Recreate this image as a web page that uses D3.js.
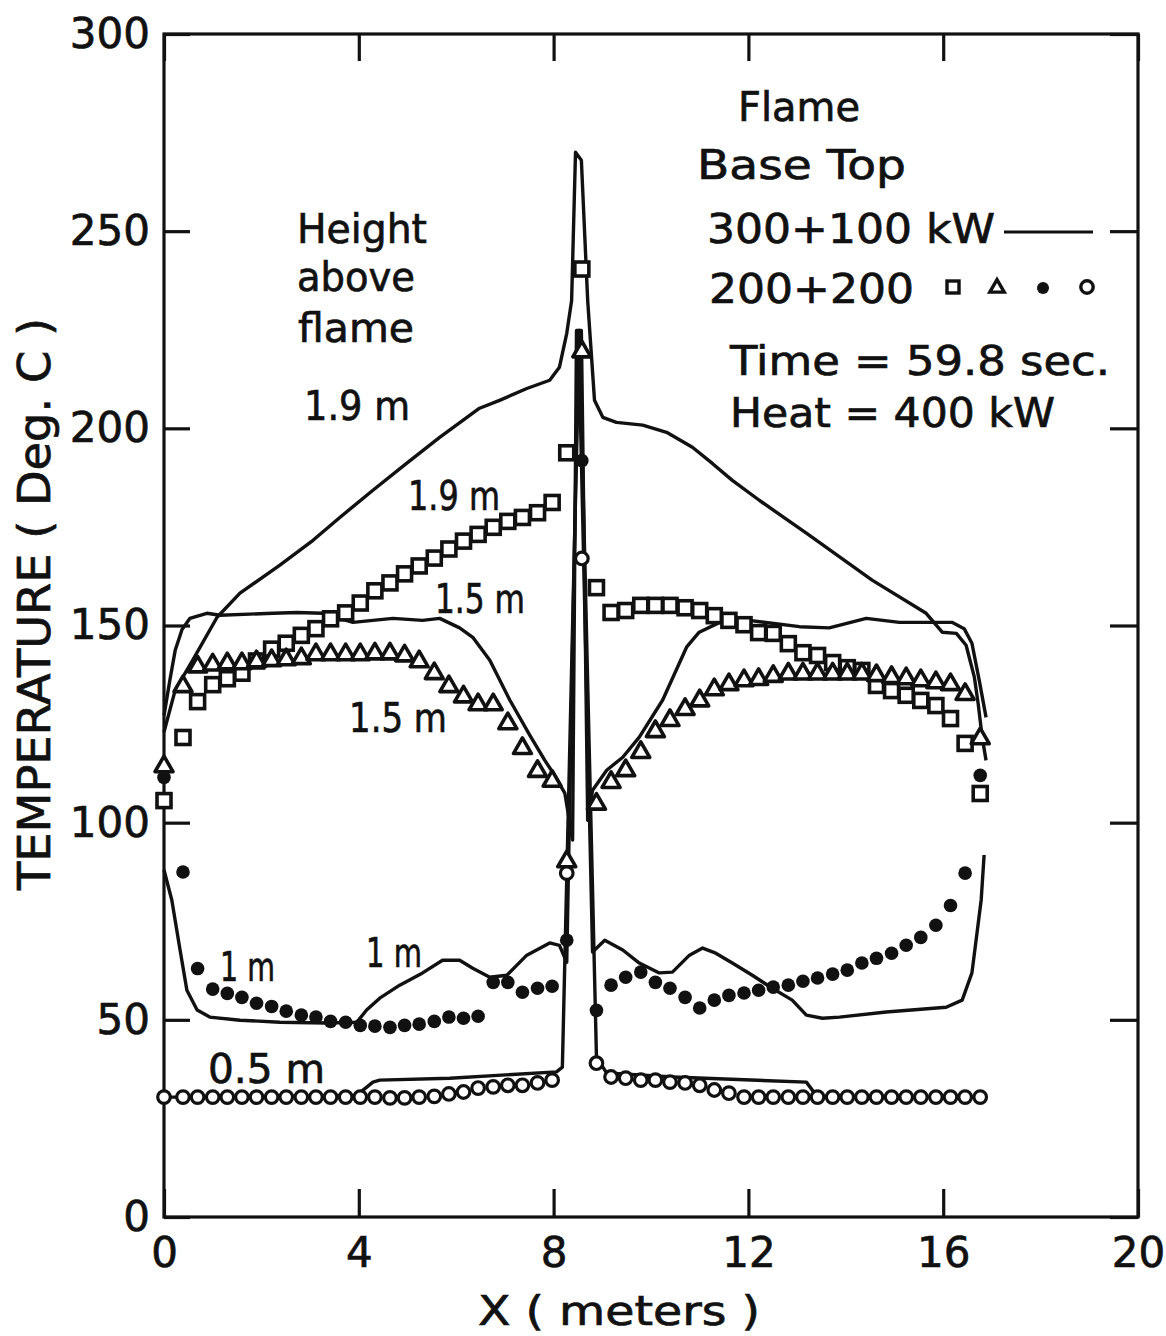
<!DOCTYPE html>
<html>
<head>
<meta charset="utf-8">
<script src="https://cdn.jsdelivr.net/npm/d3@7"></script>
<style>
  body { margin: 0; background: #fff; }
  text { font-family: "DejaVu Sans", sans-serif; fill: #111; stroke: #111; stroke-width: 0.7px; }
</style>
</head>
<body>
<div id="chart"></div>
<script>
// marker positions along the room (m), shared by the 200+200 kW series
var xGrid = [0, 0.39, 0.69, 1.0, 1.3, 1.6, 1.9, 2.21, 2.51, 2.82, 3.12, 3.42, 3.73, 4.03, 4.33, 4.64,
  4.94, 5.24, 5.55, 5.85, 6.15, 6.45, 6.76, 7.06, 7.36, 7.67, 7.97, 8.27, 8.58, 8.88, 9.18, 9.48,
  9.79, 10.09, 10.39, 10.7, 11.0, 11.3, 11.6, 11.91, 12.21, 12.51, 12.82, 13.12, 13.42, 13.73,
  14.03, 14.33, 14.63, 14.94, 15.24, 15.54, 15.85, 16.15, 16.45, 16.76];

// 200+200 kW, 1.9 m (squares)
var squares19 = [105.6, 121.6, 130.7, 135.0, 136.5, 137.9, 141.0, 144.0, 145.5, 147.5,
  149.2, 151.7, 153.2, 155.7, 158.8, 160.8, 163.1, 165.1, 167.1, 169.4,
  171.4, 173.1, 174.9, 176.4, 177.4, 178.6, 181.2, 193.8, 240.4, 159.6,
  153.3, 153.8, 155.1, 155.1, 155.1, 154.5, 153.8, 152.5, 151.3, 150.2,
  148.2, 148.0, 145.4, 143.1, 142.4, 140.6, 139.3, 138.6, 134.8, 133.5,
  132.3, 131.0, 129.7, 126.4, 120.1, 107.4];

// 200+200 kW, 1.5 m (triangles)
var triangles15 = [114.5, 134.8, 139.8, 140.3, 140.6, 140.6, 141.1, 141.4, 141.6, 141.9,
  142.9, 142.9, 142.9, 142.9, 143.1, 143.1, 142.6, 141.1, 138.1, 134.8,
  132.2, 130.2, 130.2, 125.4, 119.1, 113.3, 110.8, 90.4, 219.7, 105.0,
  110.5, 113.5, 118.1, 123.4, 126.2, 129.0, 131.2, 134.0, 135.3, 136.3,
  136.6, 137.4, 138.0, 138.0, 138.0, 138.0, 138.0, 138.0, 137.6, 137.1,
  136.8, 136.3, 135.8, 135.3, 132.8, 121.6];

// 200+200 kW, 1 m (filled dots)
var dots10 = [111.5, 87.5, 63.0, 57.8, 56.7, 55.7, 54.2, 53.4, 52.2, 51.2,
  50.7, 49.6, 49.4, 48.6, 48.4, 48.1, 48.6, 48.9, 49.6, 50.7,
  50.4, 50.9, 59.5, 59.5, 57.0, 58.0, 58.5, 70.2, 191.8, 52.4,
  58.8, 60.8, 62.1, 59.5, 58.0, 55.7, 53.0, 55.0, 56.2, 56.8,
  57.5, 58.3, 58.8, 59.8, 60.6, 61.6, 62.6, 64.4, 65.6, 66.9,
  68.9, 70.9, 74.0, 79.0, 87.2, 112.0];

// 200+200 kW, 0.5 m (open circles)
var circles05 = [30.4, 30.4, 30.4, 30.4, 30.4, 30.4, 30.4, 30.4, 30.4, 30.4,
  30.4, 30.4, 30.4, 30.4, 30.4, 30.2, 30.2, 30.4, 30.6, 31.2,
  31.7, 32.7, 33.0, 33.4, 33.4, 34.0, 34.7, 87.2, 167.0, 39.0,
  35.5, 35.2, 34.7, 34.7, 34.2, 34.0, 33.4, 32.2, 31.4, 30.4,
  30.4, 30.4, 30.4, 30.4, 30.4, 30.4, 30.4, 30.4, 30.4, 30.4,
  30.4, 30.4, 30.4, 30.4, 30.4, 30.4];

// 300+100 kW curves, [x (m), T (deg C)]
var line19 = [[0, 123], [0.23, 133.6], [0.59, 141.2], [1.09, 152.1], [1.56, 158.2], [2.38, 165.3],
  [3.06, 171.6], [3.61, 177.4], [4.29, 184.3], [4.98, 191.1], [5.66, 197.7], [6.48, 205.1],
  [6.89, 207.1], [7.45, 210.1], [7.92, 212.2], [8.12, 215.5], [8.27, 224.1], [8.37, 232.4],
  [8.45, 270], [8.57, 268], [8.7, 232.4], [8.84, 207.1], [9.01, 202.8], [9.29, 201.5],
  [9.83, 200.8], [10.32, 199], [10.85, 195.2], [11.26, 191.1], [11.67, 186.8], [12.23, 181.7],
  [13.19, 173.4], [14.54, 161.5], [15.65, 153.1], [15.98, 148.3], [16.27, 148], [16.47, 145],
  [16.64, 136.9], [16.72, 130], [16.8, 121.7], [16.88, 115.8]];

var line15 = [[0, 127.2], [0.12, 136.1], [0.23, 143.7], [0.37, 149], [0.53, 151.8], [0.88, 153.1],
  [1.15, 152.6], [2.24, 153.1], [2.73, 153.3], [3.26, 153.1], [3.88, 150.8], [4.7, 151.8],
  [5.31, 151.3], [5.66, 151.8], [6.07, 149.4], [6.34, 147], [6.69, 141.2], [7.1, 131.1],
  [7.51, 122.2], [7.82, 115.8], [7.98, 112.8], [8.23, 107.5], [8.39, 95.6], [8.47, 224.8],
  [8.57, 224.8], [8.7, 100.6], [8.8, 108.2], [9.09, 113.3], [9.42, 116.6], [9.76, 121.7],
  [10.24, 131.1], [10.73, 144.5], [10.99, 148.3], [11.41, 150.8], [12.02, 151.3], [13.05, 149.7],
  [13.66, 149.4], [14.42, 151.8], [15.1, 150.8], [16.18, 150.8], [16.43, 149.2], [16.59, 145.5],
  [16.74, 136.1], [16.88, 126.7]];

var line10 = [[0, 88], [0.16, 80.4], [0.33, 67.7], [0.47, 57.5], [0.68, 52.5], [0.94, 50.7],
  [1.56, 49.9], [2.38, 49.4], [3.34, 49.2], [3.96, 49.4], [4.16, 52.5], [4.43, 55.5],
  [4.84, 58.8], [5.31, 61.9], [5.72, 65.1], [6.07, 65.1], [6.34, 63.1], [6.69, 60.8],
  [7.04, 61.3], [7.45, 66.4], [7.92, 69.5], [8.12, 68.9], [8.27, 64.6], [8.51, 224.8],
  [8.8, 67.2], [9.05, 70.2], [9.42, 67.7], [9.76, 64.4], [10.17, 61.9], [10.44, 62.1],
  [10.79, 66.4], [11.06, 68.2], [11.33, 66.9], [11.67, 64.4], [12.08, 61.3], [12.49, 58],
  [12.9, 55], [13.19, 51.2], [13.52, 50.4], [13.87, 50.7], [14.83, 52], [16.06, 53.2],
  [16.39, 55], [16.59, 61.9], [16.78, 80.4], [16.84, 91.8]];

var line05 = [[0, 30.4], [1.76, 30.4], [3.96, 30.9], [4.29, 34.2], [4.43, 34.7], [5.87, 35.2],
  [8.06, 36.8], [8.18, 38], [8.53, 224.8], [8.88, 40.6], [9.09, 36.5], [10.44, 35.5],
  [13.19, 34.2], [13.42, 30.4], [15.1, 30.4], [16.84, 30.4]];

var xTicks = [0, 4, 8, 12, 16, 20];
var yTicks = [0, 50, 100, 150, 200, 250, 300];

(function() {
  var W = 1166, H = 1336;
  var pl = 164, pr = 1138, pt = 34, pb = 1217;

  var svg = d3.select("#chart").append("svg")
    .attr("width", W).attr("height", H);

  var x = d3.scaleLinear().domain([0, 20]).range([pl, pr]);
  var y = d3.scaleLinear().domain([0, 300]).range([pb, pt]);

  // frame
  svg.append("rect")
    .attr("x", pl).attr("y", pt)
    .attr("width", pr - pl).attr("height", pb - pt)
    .attr("fill", "none").attr("stroke", "#111").attr("stroke-width", 3.2);

  function styleAxis(g) {
    g.select(".domain").remove();
    g.selectAll(".tick line").attr("stroke", "#111").attr("stroke-width", 3.2);
    g.selectAll(".tick text").style("font-size", "42px").attr("fill", "#111");
  }

  svg.append("g").attr("transform", "translate(0," + pb + ")")
    .call(d3.axisBottom(x).tickValues(xTicks).tickSizeInner(-28).tickSizeOuter(0).tickPadding(20))
    .call(styleAxis);
  svg.append("g").attr("transform", "translate(0," + pt + ")")
    .call(d3.axisTop(x).tickValues(xTicks).tickSizeInner(-27).tickSizeOuter(0).tickFormat(""))
    .call(styleAxis);
  svg.append("g").attr("transform", "translate(" + pl + ",0)")
    .call(d3.axisLeft(y).tickValues(yTicks).tickSizeInner(-26).tickSizeOuter(0).tickPadding(14))
    .call(styleAxis);
  svg.append("g").attr("transform", "translate(" + pr + ",0)")
    .call(d3.axisRight(y).tickValues(yTicks).tickSizeInner(-28).tickSizeOuter(0).tickFormat(""))
    .call(styleAxis);

  // axis titles
  svg.append("text")
    .attr("x", 619).attr("y", 1325)
    .attr("text-anchor", "middle")
    .attr("textLength", 282).attr("lengthAdjust", "spacingAndGlyphs")
    .style("font-size", "40px")
    .text("X  ( meters )");

  svg.append("text")
    .attr("transform", "translate(50,604) rotate(-90)")
    .attr("text-anchor", "middle")
    .attr("textLength", 572).attr("lengthAdjust", "spacingAndGlyphs")
    .style("font-size", "44px")
    .text("TEMPERATURE  ( Deg. C )");

  // 300+100 kW curves
  var line = d3.line().x(function(d) { return x(d[0]); }).y(function(d) { return y(d[1]); });
  var plot = svg.append("g").attr("class", "plot");

  plot.selectAll("path.curve")
    .data([line19, line15, line10, line05])
    .enter().append("path")
    .attr("class", "curve")
    .attr("d", line)
    .attr("fill", "none")
    .attr("stroke", "#111")
    .attr("stroke-width", 3.4)
    .attr("stroke-linejoin", "round");

  // 200+200 kW markers
  function pairs(vals) {
    return vals.map(function(v, i) { return [xGrid[i], v]; });
  }

  plot.selectAll("rect.sq")
    .data(pairs(squares19))
    .enter().append("rect")
    .attr("class", "sq")
    .attr("x", function(d) { return x(d[0]) - 7; })
    .attr("y", function(d) { return y(d[1]) - 7; })
    .attr("width", 14).attr("height", 14)
    .attr("fill", "#fff").attr("stroke", "#111").attr("stroke-width", 3.6);

  var tri = d3.symbol().type(d3.symbolTriangle).size(140);
  plot.selectAll("path.tri")
    .data(pairs(triangles15))
    .enter().append("path")
    .attr("class", "tri")
    .attr("d", tri)
    .attr("transform", function(d) { return "translate(" + x(d[0]) + "," + (y(d[1]) + 1) + ")"; })
    .attr("fill", "#fff").attr("stroke", "#111").attr("stroke-width", 3.6)
    .attr("stroke-linejoin", "round");

  plot.selectAll("circle.dot")
    .data(pairs(dots10))
    .enter().append("circle")
    .attr("class", "dot")
    .attr("cx", function(d) { return x(d[0]); })
    .attr("cy", function(d) { return y(d[1]); })
    .attr("r", 6.8)
    .attr("fill", "#111");

  plot.selectAll("circle.ring")
    .data(pairs(circles05))
    .enter().append("circle")
    .attr("class", "ring")
    .attr("cx", function(d) { return x(d[0]); })
    .attr("cy", function(d) { return y(d[1]); })
    .attr("r", 6.3)
    .attr("fill", "#fff").attr("stroke", "#111").attr("stroke-width", 3.2);

  // annotations
  var notes = [
    ["Height", 297, 228, 130],
    ["above", 297, 276, 118],
    ["flame", 298, 327, 116],
    ["1.9 m", 304, 405, 106],
    ["Flame", 738, 106, 122],
    ["Base  Top", 697, 164, 209],
    ["300+100  kW", 707, 228, 288],
    ["200+200", 709, 288, 205],
    ["Time  =  59.8  sec.", 730, 360, 380],
    ["Heat  =  400  kW", 730, 412, 325],
    ["1.9 m", 408, 495, 92],
    ["1.5 m", 435, 598, 90],
    ["1.5 m", 349, 717, 98],
    ["1 m", 220, 966, 55],
    ["1 m", 366, 952, 56],
    ["0.5 m", 208, 1068, 117]
  ];
  svg.selectAll("text.note")
    .data(notes)
    .enter().append("text")
    .attr("class", "note")
    .attr("x", function(d) { return d[1]; })
    .attr("y", function(d) { return d[2]; })
    .attr("dy", "0.36em")
    .attr("textLength", function(d) { return d[3]; })
    .attr("lengthAdjust", "spacingAndGlyphs")
    .style("font-size", "41px")
    .text(function(d) { return d[0]; });

  // legend symbols
  var lg = svg.append("g");
  lg.append("line").attr("x1", 1004).attr("x2", 1093).attr("y1", 232).attr("y2", 232)
    .attr("stroke", "#111").attr("stroke-width", 3.2);
  lg.append("rect").attr("x", 947).attr("y", 281).attr("width", 12).attr("height", 12)
    .attr("fill", "#fff").attr("stroke", "#111").attr("stroke-width", 3.4);
  lg.append("path").attr("d", d3.symbol().type(d3.symbolTriangle).size(90))
    .attr("transform", "translate(997,288)")
    .attr("fill", "#fff").attr("stroke", "#111").attr("stroke-width", 3.4);
  lg.append("circle").attr("cx", 1043).attr("cy", 288).attr("r", 6).attr("fill", "#111");
  lg.append("circle").attr("cx", 1087).attr("cy", 287).attr("r", 6.2).attr("fill", "#fff")
    .attr("stroke", "#111").attr("stroke-width", 3.4);
})();
</script>
</body>
</html>
